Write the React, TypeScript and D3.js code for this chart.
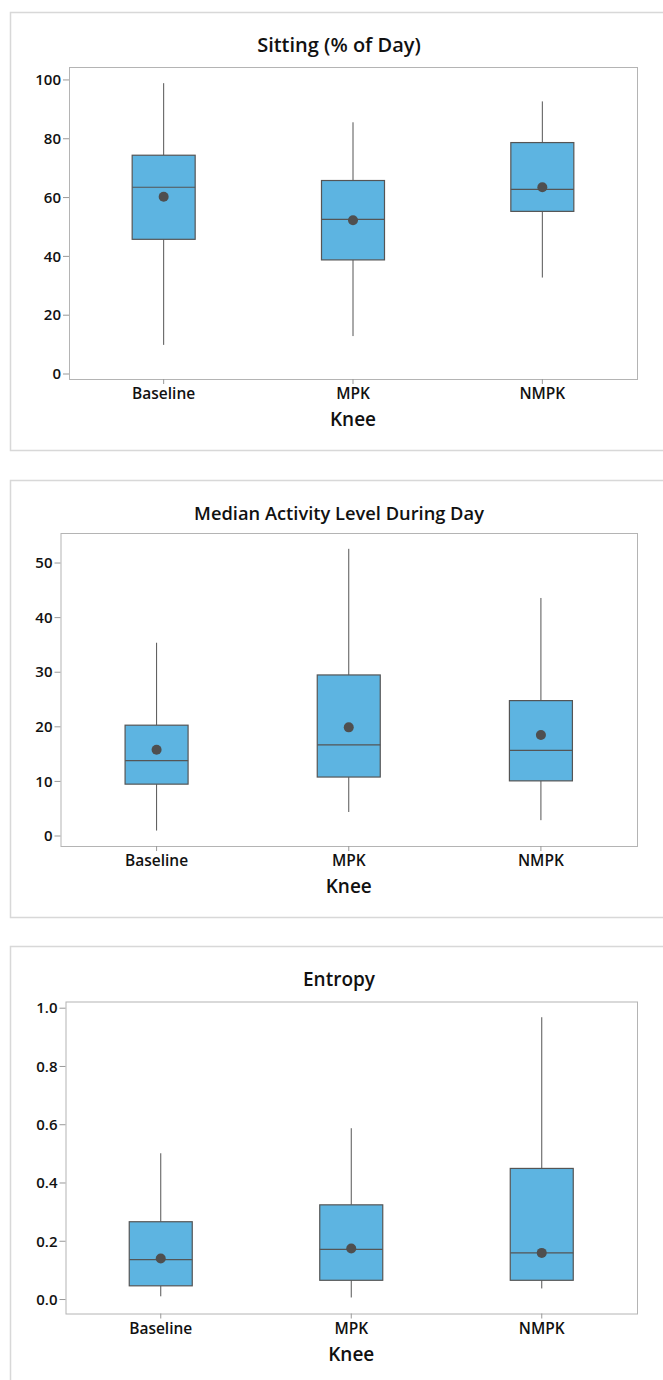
import React from "react";
import * as d3 from "d3";

const categories = ["Baseline", "MPK", "NMPK"];

const sittingMin = [9.9, 12.9, 32.8];
const sittingQ1 = [45.8, 38.8, 55.3];
const sittingMedian = [63.5, 52.6, 62.8];
const sittingQ3 = [74.4, 65.8, 78.7];
const sittingMax = [98.9, 85.6, 92.7];
const sittingMean = [60.3, 52.3, 63.5];
const sittingTicks = [0, 20, 40, 60, 80, 100];

const activityMin = [1.0, 4.4, 2.9];
const activityQ1 = [9.5, 10.8, 10.1];
const activityMedian = [13.8, 16.7, 15.7];
const activityQ3 = [20.3, 29.5, 24.8];
const activityMax = [35.4, 52.6, 43.6];
const activityMean = [15.8, 19.9, 18.5];
const activityTicks = [0, 10, 20, 30, 40, 50];

const entropyMin = [0.011, 0.007, 0.038];
const entropyQ1 = [0.047, 0.066, 0.066];
const entropyMedian = [0.137, 0.172, 0.16];
const entropyQ3 = [0.267, 0.325, 0.45];
const entropyMax = [0.502, 0.588, 0.969];
const entropyMean = [0.141, 0.175, 0.16];
const entropyTicks = [0, 0.2, 0.4, 0.6, 0.8, 1.0];

const FONT = "'Segoe UI', 'Open Sans', 'Noto Sans', sans-serif";
const BOX_FILL = "#5DB4E1";
const DARK = "#555555";

type PanelProps = {
  title: string;
  titleSize: number;
  frameTop: number;
  frameBottom: number;
  plotLeft: number;
  plotTop: number;
  plotBottom: number;
  domain: [number, number];
  ticks: number[];
  fmt: (v: number) => string;
  mins: number[];
  q1s: number[];
  medians: number[];
  q3s: number[];
  maxs: number[];
  means: number[];
};

function Panel(p: PanelProps) {
  const plotRight = 637;
  const x = d3.scalePoint<string>().domain(categories).range([p.plotLeft, plotRight]).padding(0.5);
  const y = d3.scaleLinear().domain(p.domain).range([p.plotBottom, p.plotTop]);
  const boxW = 63;
  const cx = (plotRight + p.plotLeft) / 2;
  return (
    <g>
      <path
        d={`M663,${p.frameTop + 0.5} H10.5 V${p.frameBottom + 0.5} H663`}
        fill="none"
        stroke="#d8d8d8"
        strokeWidth={1.5}
      />
      <text
        x={339}
        y={p.frameTop + 40}
        textAnchor="middle"
        fontFamily={FONT}
        fontWeight={600}
        fontSize={p.titleSize}
        fill="#111"
      >
        {p.title}
      </text>
      <rect
        x={p.plotLeft + 0.5}
        y={p.plotTop + 0.5}
        width={plotRight - p.plotLeft}
        height={p.plotBottom - p.plotTop}
        fill="white"
        stroke="#b4b4b4"
        strokeWidth={1}
      />
      {p.ticks.map((t) => (
        <g key={t}>
          <line x1={p.plotLeft - 6} x2={p.plotLeft} y1={y(t)} y2={y(t)} stroke="#999" />
          <text
            x={p.plotLeft - 8}
            y={y(t)}
            dy="0.35em"
            textAnchor="end"
            fontFamily={FONT}
            fontWeight={600}
            fontSize={15}
            fill="#111"
          >
            {p.fmt(t)}
          </text>
        </g>
      ))}
      {categories.map((c, i) => {
        const xc = x(c)!;
        return (
          <g key={c}>
            <line x1={xc} x2={xc} y1={p.plotBottom} y2={p.plotBottom + 5} stroke="#999" />
            <text
              x={xc}
              y={p.plotBottom + 20}
              textAnchor="middle"
              fontFamily={FONT}
              fontWeight={600}
              fontSize={15.5}
              fill="#111"
            >
              {c}
            </text>
            <line x1={xc} x2={xc} y1={y(p.maxs[i])} y2={y(p.q3s[i])} stroke={DARK} strokeWidth={1} />
            <line x1={xc} x2={xc} y1={y(p.q1s[i])} y2={y(p.mins[i])} stroke={DARK} strokeWidth={1} />
            <rect
              x={xc - boxW / 2}
              y={y(p.q3s[i])}
              width={boxW}
              height={y(p.q1s[i]) - y(p.q3s[i])}
              fill={BOX_FILL}
              stroke={DARK}
              strokeWidth={1.2}
            />
            <line
              x1={xc - boxW / 2}
              x2={xc + boxW / 2}
              y1={y(p.medians[i])}
              y2={y(p.medians[i])}
              stroke={DARK}
              strokeWidth={1.2}
            />
            <circle cx={xc} cy={y(p.means[i])} r={5} fill="#4f4f4f" />
          </g>
        );
      })}
      <text
        x={cx}
        y={p.plotBottom + 47}
        textAnchor="middle"
        fontFamily={FONT}
        fontWeight={600}
        fontSize={19}
        fill="#111"
      >
        Knee
      </text>
    </g>
  );
}

export default function App() {
  const f0 = (v: number) => d3.format("d")(v);
  const f1 = (v: number) => d3.format(".1f")(v);
  return (
    <svg
      width={663}
      height={1380}
      style={{ position: "absolute", left: 0, top: 0, background: "white" }}
    >
      <rect x={0} y={0} width={663} height={1380} fill="white" />
      <Panel
        title="Sitting (% of Day)"
        titleSize={20}
        frameTop={12}
        frameBottom={450}
        plotLeft={69}
        plotTop={67}
        plotBottom={379}
        domain={[-1.7, 104.4]}
        ticks={sittingTicks}
        fmt={f0}
        mins={sittingMin}
        q1s={sittingQ1}
        medians={sittingMedian}
        q3s={sittingQ3}
        maxs={sittingMax}
        means={sittingMean}
      />
      <Panel
        title="Median Activity Level During Day"
        titleSize={18.3}
        frameTop={480}
        frameBottom={917}
        plotLeft={60.5}
        plotTop={533}
        plotBottom={846}
        domain={[-1.83, 55.5]}
        ticks={activityTicks}
        fmt={f0}
        mins={activityMin}
        q1s={activityQ1}
        medians={activityMedian}
        q3s={activityQ3}
        maxs={activityMax}
        means={activityMean}
      />
      <Panel
        title="Entropy"
        titleSize={19}
        frameTop={946}
        frameBottom={1400}
        plotLeft={65.5}
        plotTop={1001.5}
        plotBottom={1313.5}
        domain={[-0.048, 1.023]}
        ticks={entropyTicks}
        fmt={f1}
        mins={entropyMin}
        q1s={entropyQ1}
        medians={entropyMedian}
        q3s={entropyQ3}
        maxs={entropyMax}
        means={entropyMean}
      />
    </svg>
  );
}
